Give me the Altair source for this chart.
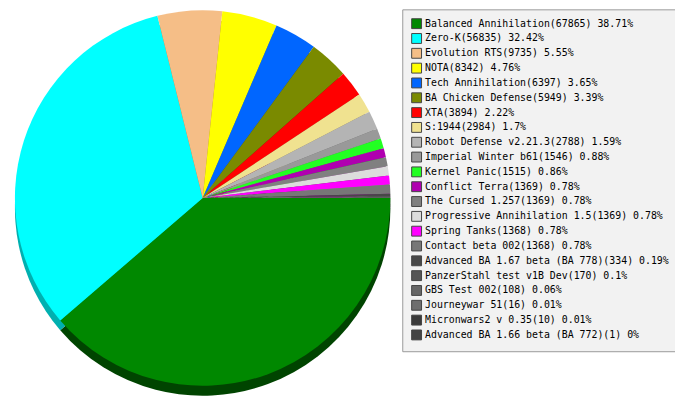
import altair as alt
import pandas as pd

names = ["Balanced Annihilation", "Zero-K", "Evolution RTS", "NOTA", "Tech Annihilation",
         "BA Chicken Defense", "XTA", "S:1944", "Robot Defense v2.21.3", "Imperial Winter b61",
         "Kernel Panic", "Conflict Terra", "The Cursed 1.257", "Progressive Annihilation 1.5",
         "Spring Tanks", "Contact beta 002", "Advanced BA 1.67 beta (BA 778)",
         "PanzerStahl test v1B Dev", "GBS Test 002", "Journeywar 51", "Micronwars2 v 0.35",
         "Advanced BA 1.66 beta (BA 772)"]
counts = [67865, 56835, 9735, 8342, 6397, 5949, 3894, 2984, 2788, 1546, 1515, 1369, 1369,
          1369, 1368, 1368, 334, 170, 108, 16, 10, 1]
percents = [38.71, 32.42, 5.55, 4.76, 3.65, 3.39, 2.22, 1.7, 1.59, 0.88, 0.86, 0.78, 0.78,
            0.78, 0.78, 0.78, 0.19, 0.1, 0.06, 0.01, 0.01, 0]
colors = ["#008800", "#00ffff", "#f5be87", "#ffff00", "#0066ff", "#7a8a00", "#ff0000",
          "#f0e290", "#b4b4b4", "#999999", "#22ff22", "#b000b0", "#808080", "#dcdcdc",
          "#ff00ff", "#777777", "#484848", "#555555", "#666666", "#6e6e6e", "#3a3a3a",
          "#444444"]
shadow_colors = ["#004400", "#00b0b0", "#a07040", "#a0a000", "#003c99", "#3d4500",
                 "#990000", "#998a50", "#707070", "#5c5c5c", "#119911", "#600060",
                 "#4c4c4c", "#888888", "#990099", "#474747", "#2c2c2c", "#333333",
                 "#3d3d3d", "#424242", "#222222", "#2a2a2a"]

labels = [f"{n}({c}) {p:g}%" for n, c, p in zip(names, counts, percents)]
df = pd.DataFrame({"label": labels, "count": counts, "idx": list(range(len(names))),
                   "shadow": shadow_colors})

theta_scale = alt.Scale(range=[1.5708, 1.5708 + 6.28319])
cx, cy, r, depth = 197, 190, 190, 10

shadow = alt.Chart(df).mark_arc(radius=r).encode(
    theta=alt.Theta("count:Q", stack=True, scale=theta_scale),
    order=alt.Order("idx:Q"),
    color=alt.Color("shadow:N", scale=None, legend=None),
    x=alt.value(cx), y=alt.value(cy + depth),
)

pie = alt.Chart(df).mark_arc(radius=r).encode(
    theta=alt.Theta("count:Q", stack=True, scale=theta_scale),
    order=alt.Order("idx:Q"),
    color=alt.Color("label:N", scale=alt.Scale(domain=labels, range=colors),
                    legend=alt.Legend(
                        title=None, orient="none", legendX=399, legendY=-1,
                        symbolType="square", symbolSize=100, symbolStrokeColor="#444444",
                        symbolStrokeWidth=1, labelFont="DejaVu Sans Mono", labelFontSize=10,
                        labelColor="#000000", labelLimit=400, labelOffset=3, rowPadding=0,
                        padding=9, fillColor="#f2f2f2", strokeColor="#999999",
                        symbolOpacity=1)),
    x=alt.value(cx), y=alt.value(cy),
)

chart = alt.layer(shadow, pie).resolve_scale(color="independent").properties(
    width=675, height=392, autosize=alt.AutoSizeParams(type="none"), padding=0
).configure_view(stroke=None)

chart.save("out.html", embed_options={"renderer": "svg", "actions": False})
